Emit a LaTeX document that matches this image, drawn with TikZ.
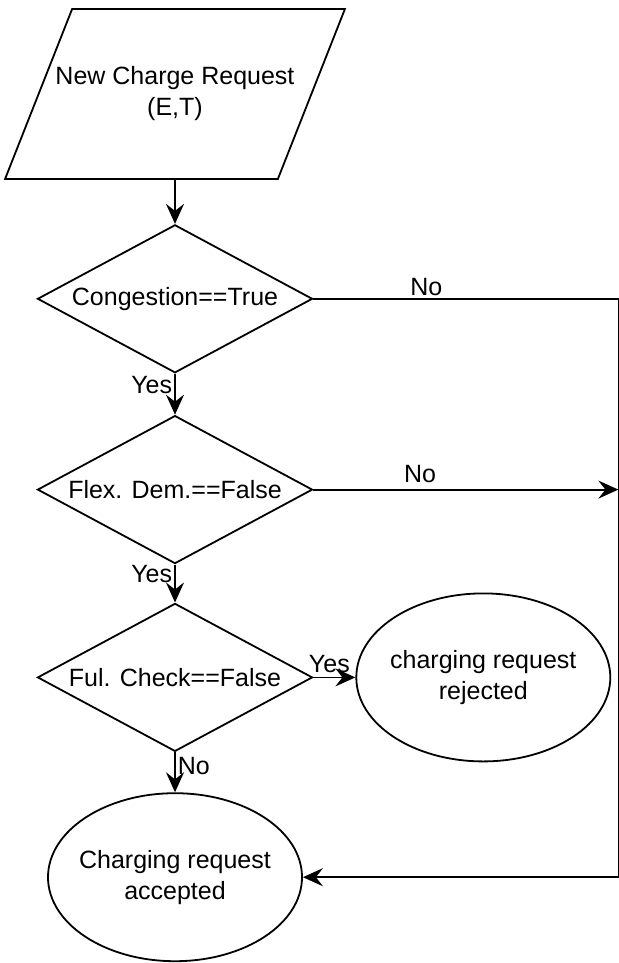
\documentclass[tikz,border=0pt]{standalone}
\usepackage{fontspec}
\setmainfont{Liberation Sans}
\usetikzlibrary{positioning, arrows.meta, calc, shapes.geometric}

\begin{document}
\begin{tikzpicture}[
  node distance=22pt,
  base/.style={draw, line width=0.9pt, inner sep=0pt, align=center,
               font=\fontsize{12.5}{15.5}\selectfont},
  inbox/.style={base, draw=none, minimum width=169pt, minimum height=84pt},
  decision/.style={base, diamond, aspect=1.86, minimum width=137.5pt, minimum height=74pt},
  terminal/.style={base, ellipse, inner xsep=-14pt, minimum width=127pt, minimum height=84pt},
  arrow/.style={-{Stealth[length=10pt, width=9pt, inset=3.5pt]}, line width=0.9pt},
  lbl/.style={inner sep=1pt, font=\fontsize{12.5}{15.5}\selectfont}
]
  \useasboundingbox (0,0) rectangle (309.5pt,-481.5pt);
  \node[inbox] (req) at (87.5pt,-47pt) {New Charge Request\\(E,T)};
  \draw[line width=0.9pt] (req.south west) -- ($(req.north west)+(33.5pt,0)$)
    -- (req.north east) -- ($(req.south east)-(33.5pt,0)$) -- cycle;
  \node[decision, below=22.5pt of req] (cong) {Congestion==True};
  \node[decision, below=20.5pt of cong] (flex) {Flex. Dem.==False};
  \node[decision, below=19pt of flex] (ful) {Ful. Check==False};
  \node[terminal, below=20pt of ful] (acc) {Charging request\\accepted};
  \node[terminal, right=21pt of ful] (rej) {charging request\\rejected};
  \coordinate[right=152.5pt of cong.east] (turn);
  \draw[arrow] (req) -- (cong);
  \draw[arrow] (cong) -- node[lbl, left, pos=0.27] {Yes} (flex);
  \draw[arrow] (flex) -- node[lbl, left, pos=0.25] {Yes} (ful);
  \draw[arrow] (ful) -- node[lbl, above, pos=0.38, inner sep=2pt] {Yes} (rej);
  \draw[arrow] (ful) -- node[lbl, right, pos=0.35] {No} (acc);
  \draw[arrow] (cong.east) -- node[lbl, above, pos=0.37] {No} (turn) |- (acc.east);
  \draw[arrow] (flex.east) -- node[lbl, above, pos=0.35, inner sep=3pt] {No} (flex.east -| turn);
\end{tikzpicture}
\end{document}
